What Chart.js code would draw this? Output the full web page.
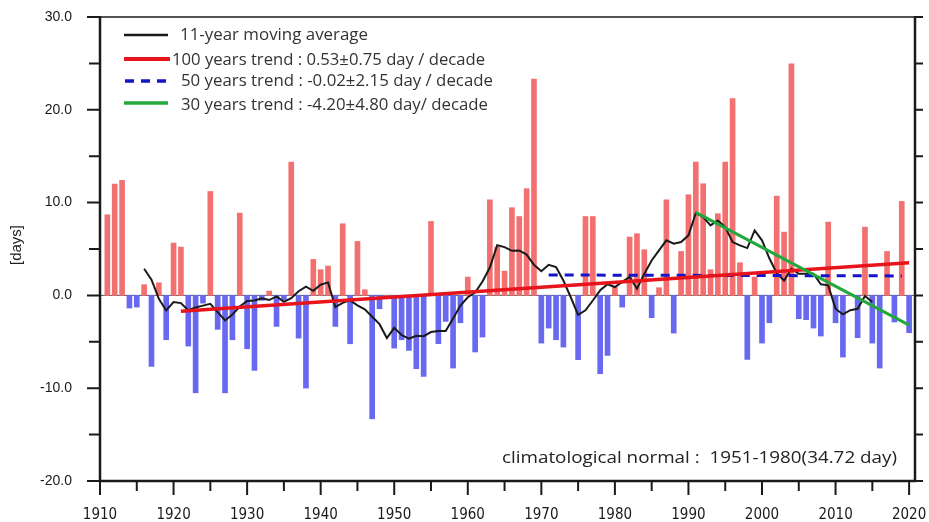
<!DOCTYPE html>
<html>
<head>
<meta charset="utf-8">
<script src="https://cdn.jsdelivr.net/npm/chart.js@4/dist/chart.umd.min.js"></script>
<style>
  html, body { margin: 0; padding: 0; background: #fff; }
  #wrap { width: 929px; height: 522px; }
</style>
</head>
<body>
<div id="wrap"><canvas id="chart" width="929" height="522"></canvas></div>
<script>
// ---- data ----
const firstYear = 1911;
// annual anomaly, days, 1911-2020
const anomaly = [
  8.69, 12.0, 12.4, -1.36, -1.26, 1.15, -7.65, 1.36, -4.78, 5.64,
  5.21, -5.46, -10.5, -0.83, 11.2, -3.66, -10.5, -4.78, 8.87, -5.75,
  -8.08, -0.54, 0.47, -3.34, -0.47, 14.37, -4.6, -9.99, 3.88, 2.77,
  3.16, -3.34, 7.72, -5.21, 5.82, 0.61, -13.3, -1.44, 0, -5.68,
  -4.78, -5.93, -7.9, -8.73, 7.97, -5.2, -2.8, -7.83, -2.95, 1.98,
  -6.1, -4.49, 10.3, 5.2, 2.62, 9.45, 8.5, 11.5, 23.3, -5.14,
  -3.52, -4.78, -5.57, 0, -6.93, 8.5, 8.5, -8.44, -6.47, 0.9,
  -1.26, 6.29, 6.65, 4.92, -2.4, 0.83, 10.3, -4.06, 4.74, 10.85,
  14.37, 12.03, 2.77, 8.8, 14.37, 21.2, 3.52, -6.9, 1.98, -5.14,
  -2.95, 10.7, 6.82, 24.96, -2.51, -2.62, -3.52, -4.38, 7.9, -2.95,
  -6.65, 0, -4.56, 7.36, -5.14, -7.83, 4.74, -2.87, 10.13, -4.02
];
// 11-year moving average, 1916-2015
const maStart = 1916;
const movingAvg = [
  2.87, 1.69, -0.36, -1.62, -0.72, -0.83, -1.6, -1.3, -1.1, -0.9,
  -1.8, -2.7, -2.05, -1.2, -0.6, -0.55, -0.3, -0.5, -0.1, -0.7,
  -0.3, 0.45, 0.95, 0.5, 1.15, 1.4, -1.26, -0.8, -0.54, -1.08,
  -1.5, -2.3, -3.1, -4.6, -3.5, -4.27, -4.67, -4.35, -4.4, -3.95,
  -3.84, -3.84, -2.5, -1.1, -0.2, 0.3, 1.5, 3.0, 5.4, 5.2,
  4.8, 4.85, 4.4, 3.3, 2.6, 3.3, 3.05, 1.6, -0.2, -2.1,
  -1.6, -0.55, 0.55, 1.2, 0.9, 1.45, 2.0, 0.72, 2.33, 3.77,
  4.85, 5.93, 5.57, 5.75, 6.47, 8.87, 8.44, 7.54, 8.08, 7.36,
  5.75, 5.39, 5.1, 7.0, 5.93, 4.0, 2.4, 1.6, 2.87, 2.33,
  2.33, 2.33, 1.19, 1.08, -1.44, -2.05, -1.6, -1.44, -0.07, -0.72
];
// trend lines: end years and end values
const trend100Years = [1921, 2020];
const trend100Vals = [-1.72, 3.52];
const trend50Years = [1971, 2019];
const trend50Vals = [2.2, 2.1];
const trend30Years = [1991, 2020];
const trend30Vals = [8.95, -3.2];

const xTickYears = [1910, 1920, 1930, 1940, 1950, 1960, 1970, 1980, 1990, 2000, 2010, 2020];
const yTickVals = [-20, -10, 0, 10, 20, 30];

const legendLabels = [
  '11-year moving average',
  '100 years trend : 0.53\u00b10.75 day / decade',
  '50 years trend : -0.02\u00b12.15 day / decade',
  '30 years trend : -4.20\u00b14.80 day/ decade'
];
const noteText = 'climatological normal :  1951-1980(34.72 day)';

// ---- colours ----
const PINK = '#f37070';
const BLUE = '#6868f0';
const RED = '#e8141c';
const NAVY = '#1414c8';
const GREEN = '#22a83c';
const INK = '#1a1a1a';

function pts(years, vals) {
  return vals.map(function (v, i) { return { x: years[i], y: v }; });
}

const barData = anomaly.map(function (v, i) { return { x: firstYear + i, y: v }; });
const maData = movingAvg.map(function (v, i) { return { x: maStart + i, y: v }; });

// squeeze/stretch text to a measured width
function fitText(ctx, str, x, y, w) {
  const m = ctx.measureText(str).width;
  ctx.save();
  ctx.translate(x, y);
  ctx.scale(w / m, 1);
  ctx.fillText(str, 0, 0);
  ctx.restore();
}

const framePlugin = {
  id: 'frame',
  beforeDatasetsDraw(chart) {
    const { ctx, chartArea: a, scales: { y } } = chart;
    const z = y.getPixelForValue(0);
    ctx.save();
    ctx.strokeStyle = '#555';
    ctx.lineWidth = 1;
    ctx.beginPath();
    ctx.moveTo(a.left, z);
    ctx.lineTo(a.right, z);
    ctx.stroke();
    ctx.restore();
  },
  afterDraw(chart) {
    const { ctx, chartArea: a, scales: { x, y } } = chart;
    ctx.save();
    ctx.strokeStyle = INK;
    ctx.lineCap = 'butt';

    // frame
    ctx.lineWidth = 1.5;
    ctx.beginPath();
    ctx.moveTo(a.left, a.top);
    ctx.lineTo(a.right, a.top);
    ctx.stroke();
    ctx.lineWidth = 2.5;
    ctx.beginPath();
    ctx.moveTo(a.left, a.top - 1);
    ctx.lineTo(a.left, a.bottom);
    ctx.lineTo(a.right, a.bottom);
    ctx.lineTo(a.right, a.top - 1);
    ctx.stroke();

    // y ticks every 5 days, both sides
    ctx.lineWidth = 2;
    for (let v = -20; v <= 30; v += 5) {
      const py = y.getPixelForValue(v);
      ctx.beginPath();
      ctx.moveTo(a.left - (v % 10 === 0 ? 13 : 11), py);
      ctx.lineTo(a.left, py);
      ctx.moveTo(a.right, py);
      ctx.lineTo(a.right + 8, py);
      ctx.stroke();
    }
    // x ticks every 5 years
    for (let yr = 1910; yr <= 2020; yr += 5) {
      const px = x.getPixelForValue(yr);
      ctx.beginPath();
      ctx.moveTo(px, a.bottom);
      ctx.lineTo(px, a.bottom + (yr % 10 === 0 ? 14 : 10));
      ctx.stroke();
    }

    // y title
    ctx.fillStyle = '#222';
    ctx.font = '15px "Liberation Sans", Arial, sans-serif';
    ctx.textAlign = 'center';
    ctx.textBaseline = 'middle';
    ctx.save();
    ctx.translate(17, 245);
    ctx.rotate(-Math.PI / 2);
    ctx.fillText('[days]', 0, 0);
    ctx.restore();

    // legend
    const rows = [
      { y: 35, ty: 35, color: INK, width: 2.5, dash: [], x0: 124, x1: 168, tx: 180, tw: 188 },
      { y: 59, ty: 60, color: RED, width: 4, dash: [], x0: 124, x1: 170, tx: 172, tw: 313 },
      { y: 81, ty: 81, color: NAVY, width: 3.5, dash: [9, 7], x0: 125, x1: 168, tx: 181, tw: 312 },
      { y: 103, ty: 105, color: GREEN, width: 3.5, dash: [], x0: 124, x1: 168, tx: 181, tw: 307 }
    ];
    ctx.textAlign = 'left';
    ctx.textBaseline = 'middle';
    ctx.font = '17px "Open Sans", "Noto Sans", sans-serif';
    rows.forEach(function (r, i) {
      ctx.strokeStyle = r.color;
      ctx.lineWidth = r.width;
      ctx.setLineDash(r.dash);
      ctx.beginPath();
      ctx.moveTo(r.x0, r.y);
      ctx.lineTo(r.x1, r.y);
      ctx.stroke();
      ctx.setLineDash([]);
      ctx.fillStyle = '#333';
      fitText(ctx, legendLabels[i], r.tx, r.ty, r.tw);
    });

    // climatological normal note
    ctx.fillStyle = '#222';
    ctx.font = '17px "Open Sans", "Noto Sans", sans-serif';
    fitText(ctx, noteText, 502, 458, 395);
    ctx.restore();
  }
};

new Chart(document.getElementById('chart'), {
  type: 'bar',
  data: {
    datasets: [
      {
        type: 'line',
        data: pts(trend30Years, trend30Vals),
        borderColor: GREEN,
        borderWidth: 3,
        pointRadius: 0,
        order: 1
      },
      {
        type: 'line',
        data: pts(trend100Years, trend100Vals),
        borderColor: RED,
        borderWidth: 3.5,
        pointRadius: 0,
        order: 2
      },
      {
        type: 'line',
        data: pts(trend50Years, trend50Vals),
        borderColor: NAVY,
        borderWidth: 3,
        borderDash: [9, 7],
        pointRadius: 0,
        order: 3
      },
      {
        type: 'line',
        data: maData,
        borderColor: INK,
        borderWidth: 2,
        pointRadius: 0,
        tension: 0,
        order: 4
      },
      {
        type: 'bar',
        data: barData,
        backgroundColor: function (c) {
          const v = c.raw ? c.raw.y : 0;
          return v >= 0 ? PINK : BLUE;
        },
        barThickness: 5,
        order: 5
      }
    ]
  },
  options: {
    responsive: false,
    animation: false,
    layout: { padding: { top: 17, right: 14, left: 0, bottom: 0 } },
    plugins: {
      legend: { display: false },
      tooltip: { enabled: false }
    },
    scales: {
      x: {
        type: 'linear',
        offset: false,
        min: 1910,
        max: 2020.8,
        grid: { display: false },
        border: { display: false },
        afterFit: function (s) {
          s.height = 41;
          s.paddingLeft = 0;
          s.paddingRight = 0;
        },
        ticks: {
          stepSize: 5,
          autoSkip: false,
          maxRotation: 0,
          includeBounds: false,
          padding: 17,
          color: INK,
          font: { family: '"Liberation Sans Narrow", "DejaVu Sans Condensed", sans-serif', size: 15 },
          callback: function (v) { return xTickYears.indexOf(v) >= 0 ? String(v) : ''; }
        }
      },
      y: {
        min: -20,
        max: 30,
        grid: { display: false },
        border: { display: false },
        afterFit: function (s) {
          s.width = 100;
          s.paddingTop = 0;
          s.paddingBottom = 0;
        },
        ticks: {
          stepSize: 5,
          padding: 20,
          color: INK,
          font: { family: '"Liberation Sans", Arial, sans-serif', size: 14 },
          callback: function (v) { return yTickVals.indexOf(v) >= 0 ? v.toFixed(1) : ''; }
        }
      }
    }
  },
  plugins: [framePlugin]
});
</script>
</body>
</html>
